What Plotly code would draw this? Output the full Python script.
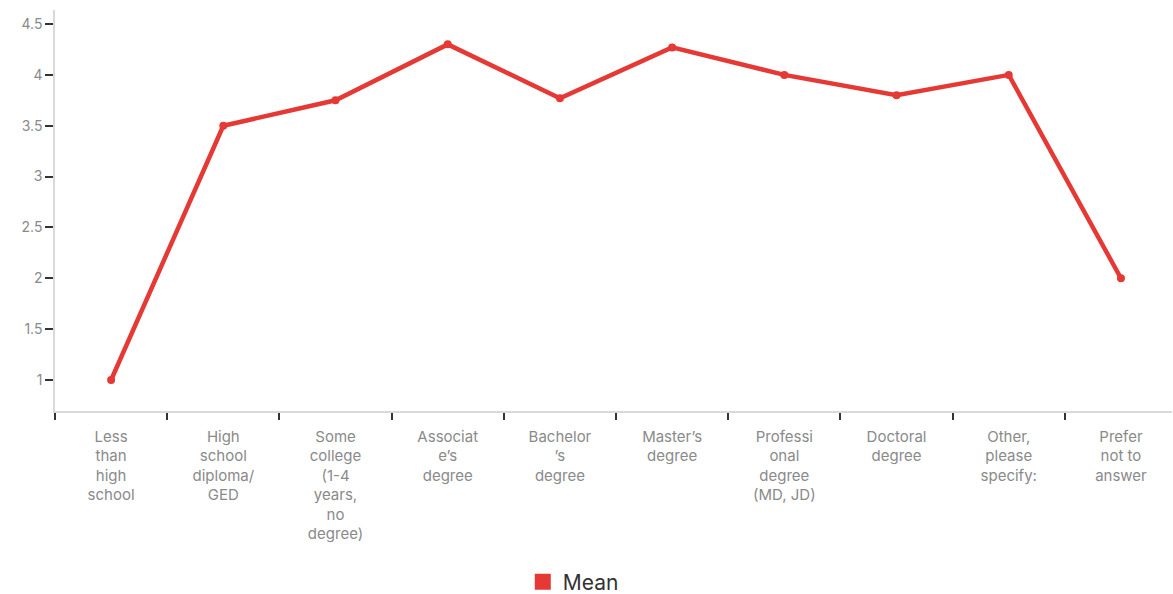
import plotly.graph_objects as go

categories = [
    "Less<br>than<br>high<br>school",
    "High<br>school<br>diploma/<br>GED",
    "Some<br>college<br>(1-4<br>years,<br>no<br>degree)",
    "Associat<br>e\u2019s<br>degree",
    "Bachelor<br>\u2019s<br>degree",
    "Master\u2019s<br>degree",
    "Professi<br>onal<br>degree<br>(MD, JD)",
    "Doctoral<br>degree",
    "Other,<br>please<br>specify:",
    "Prefer<br>not to<br>answer",
]
mean_values = [1.0, 3.5, 3.75, 4.3, 3.77, 4.27, 4.0, 3.8, 4.0, 2.0]
y_ticks = [1, 1.5, 2, 2.5, 3, 3.5, 4, 4.5]
series_name = "Mean"
red = "#E53935"

fig = go.Figure()
fig.add_trace(go.Scatter(
    x=categories, y=mean_values, mode="lines+markers",
    line=dict(color=red, width=4.5), marker=dict(color=red, size=8),
    showlegend=False, name=series_name,
))
fig.add_trace(go.Scatter(
    x=[None], y=[None], mode="markers", name=series_name,
    marker=dict(symbol="square", color=red, size=20),
))

fig.update_layout(
    width=1173, height=594,
    margin=dict(l=55, r=1, t=10, b=183, autoexpand=False),
    plot_bgcolor="white", paper_bgcolor="white",
    font=dict(family="Inter, Roboto, sans-serif", size=14, color="#888888"),
    showlegend=True,
    legend=dict(orientation="h", x=0.464, xanchor="center",
                yref="container", y=0.02, yanchor="middle",
                font=dict(size=21, color="#333333")),
    xaxis=dict(
        type="category", showline=True, linecolor="#d9d9d9", linewidth=1.5,
        ticks="outside", tickson="boundaries", ticklen=7, tickcolor="#333333", tickwidth=1.5,
        showgrid=False, tickangle=0, range=[-0.5, 9.455], ticklabelstandoff=11,
        tickfont=dict(size=15, color="#8a8a8a"),
    ),
    yaxis=dict(
        range=[0.695, 4.638], tickvals=y_ticks, ticktext=[str(v) for v in y_ticks],
        showline=True, linecolor="#d9d9d9", linewidth=1.5,
        ticks="outside", ticklen=8, tickcolor="#333333", tickwidth=1.5,
        showgrid=False, zeroline=False,
        tickfont=dict(size=14, color="#8a8a8a"),
    ),
)

fig.write_html("out.html")
